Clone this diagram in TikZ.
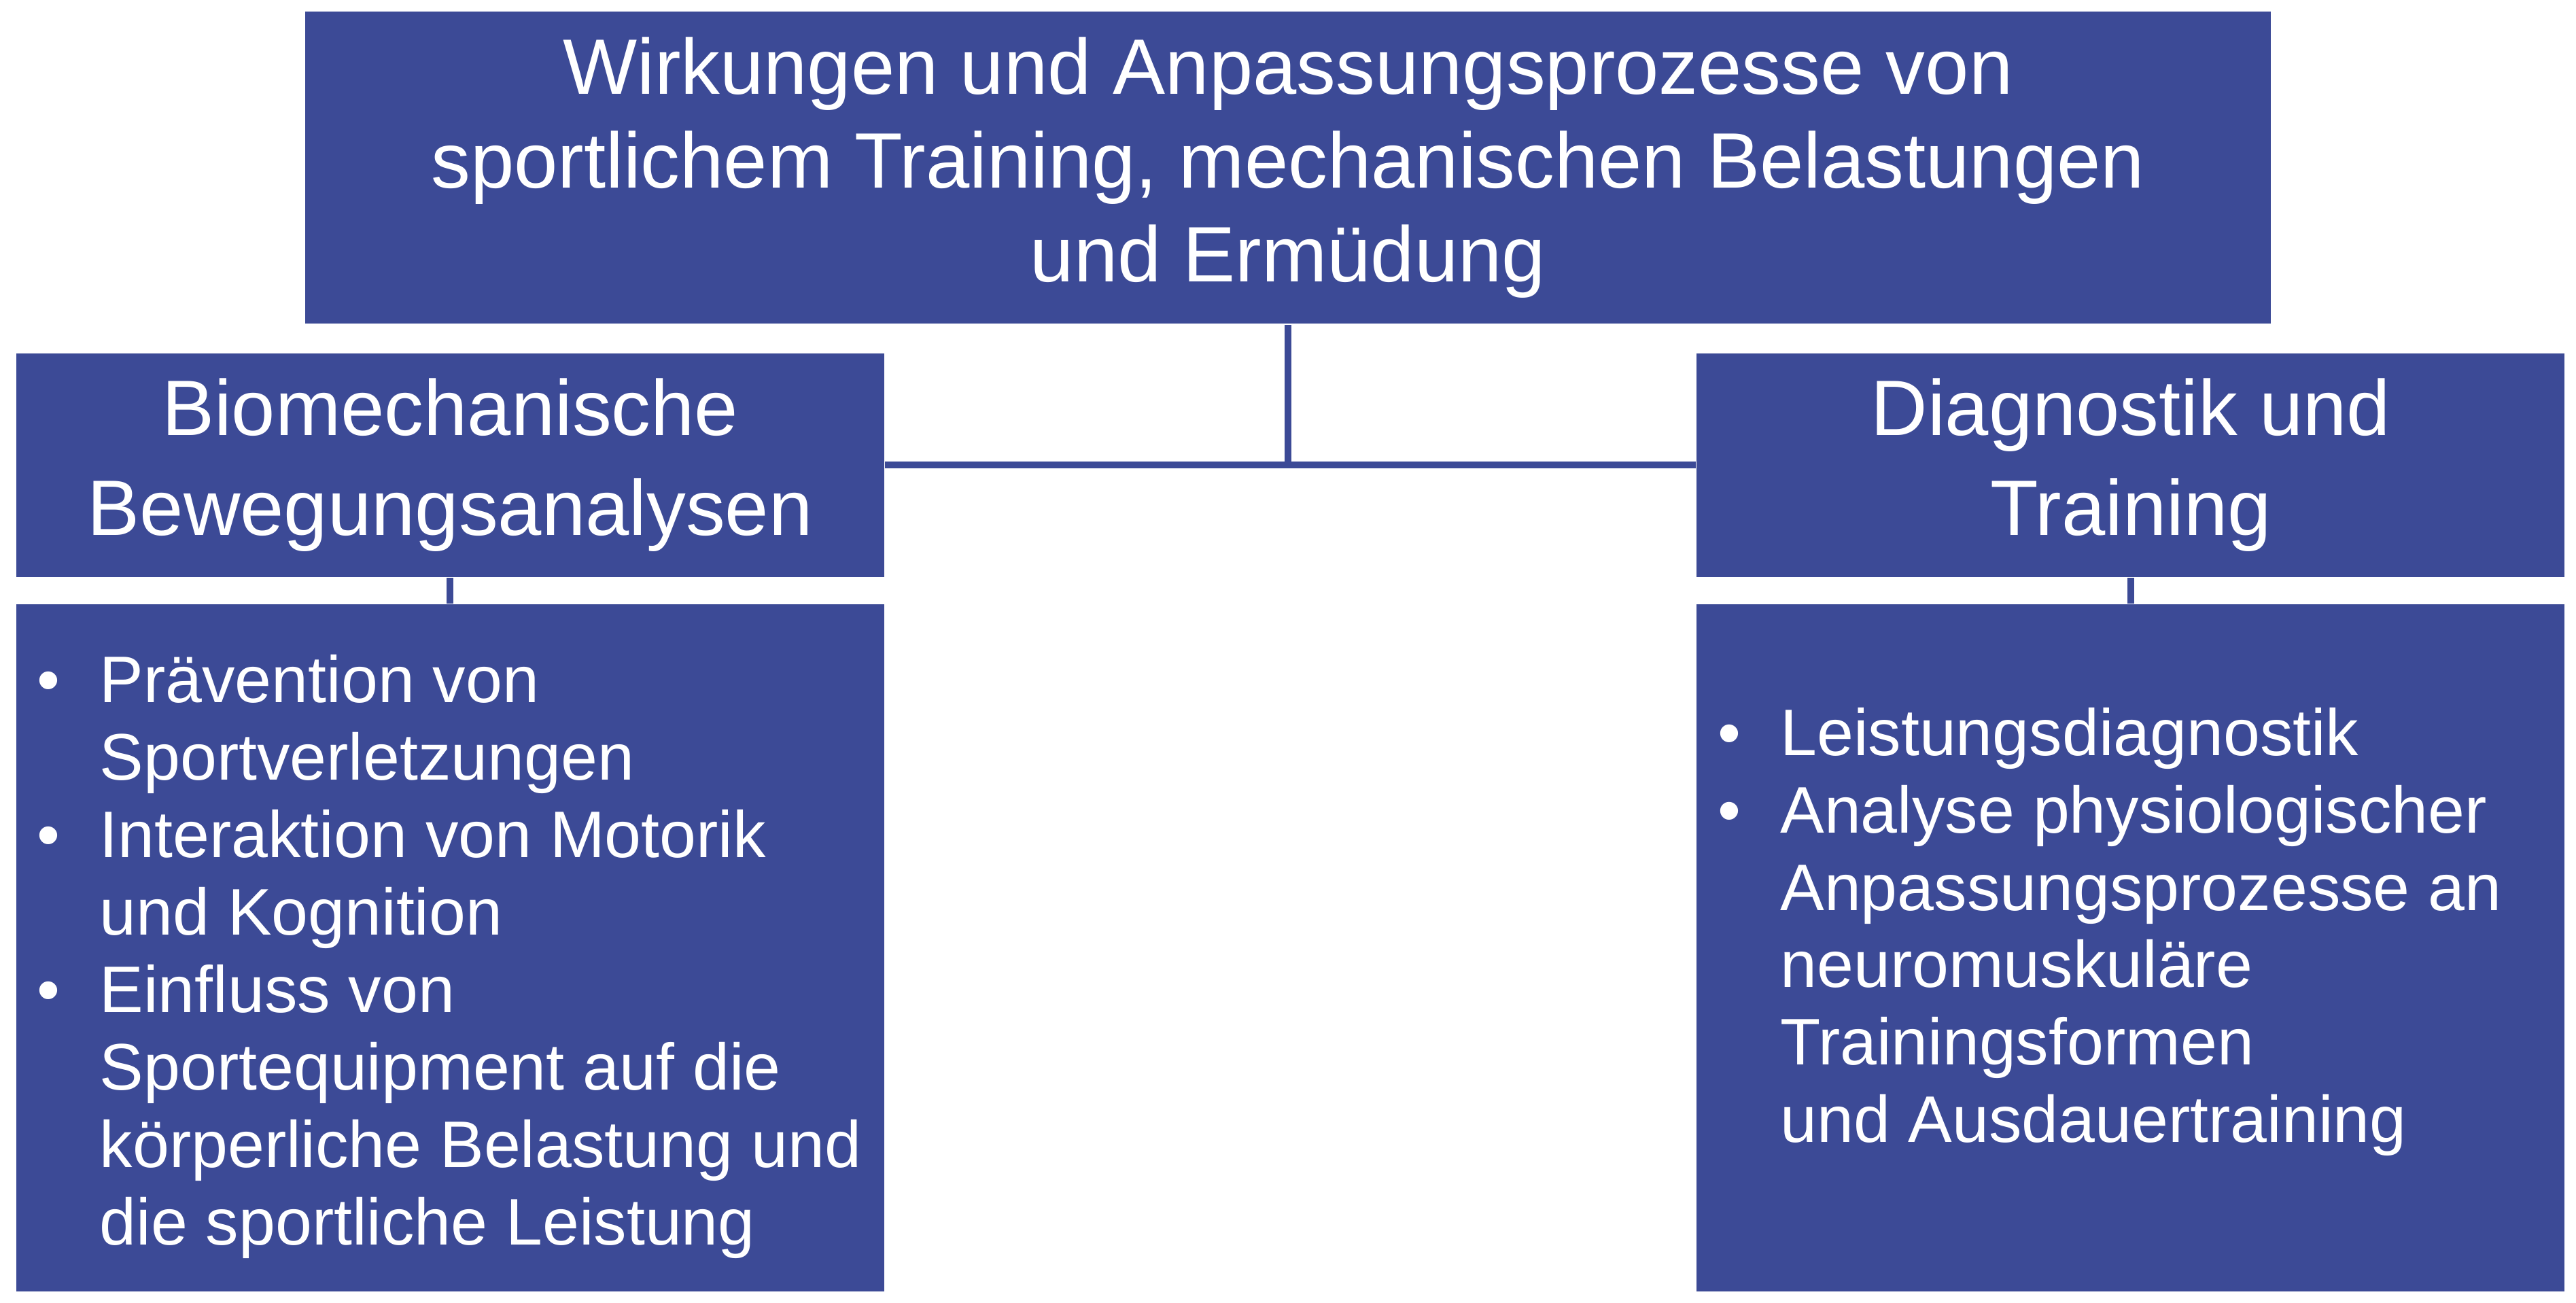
\documentclass[tikz,border=0pt]{standalone}
\usepackage{fontspec}
\setmainfont{Liberation Sans}
\definecolor{boxblue}{HTML}{3C4A96}
\tikzset{
    blockbox/.style={fill=boxblue, text=white, inner sep=0pt, align=center},
    itemtext/.style={text=white, anchor=north west, align=left, inner sep=0pt,
        font=\fontsize{11.4}{13.4}\selectfont},
    link/.style={draw=boxblue, line width=1.2pt}
}
\newcommand{\bul}{\makebox[0.38cm][l]{\textbullet}}
\newcommand{\ind}{\hspace*{0.38cm}}
\begin{document}
\begin{tikzpicture}[x=0.01cm, y=-0.01cm]
    \useasboundingbox (0,0) rectangle (1568,793);

    % Head box
    \node[blockbox, minimum width=11.96cm, minimum height=1.90cm,
        font=\fontsize{13.6}{16.2}\selectfont] (head) at (784,102)
        {Wirkungen und Anpassungsprozesse von\\sportlichem Training, mechanischen Belastungen\\und Ermüdung};

    % Titles
    \node[blockbox, minimum width=5.28cm, minimum height=1.36cm,
        font=\fontsize{13.6}{17.2}\selectfont] (biotitle) at (274,283)
        {Biomechanische\\Bewegungsanalysen};
    \node[blockbox, minimum width=5.28cm, minimum height=1.36cm,
        font=\fontsize{13.6}{17.2}\selectfont] (diagtitle) at (1297,283)
        {Diagnostik und\\Training};

    % Bodies
    \node[blockbox, minimum width=5.28cm, minimum height=4.18cm] (biobody) at (274,577) {};
    \node[blockbox, minimum width=5.28cm, minimum height=4.18cm] (diagbody) at (1297,577) {};

    \node[itemtext] (bioitems) at (22,398)
        {\bul Prävention von\\\ind Sportverletzungen\\
         \bul Interaktion von Motorik\\\ind und Kognition\\
         \bul Einfluss von\\\ind Sportequipment auf die\\\ind körperliche Belastung und\\\ind die sportliche Leistung};
    \node[itemtext] (diagitems) at (1045,430)
        {\bul Leistungsdiagnostik\\
         \bul Analyse physiologischer\\\ind Anpassungsprozesse an\\\ind neuromuskuläre\\\ind Trainingsformen\\\ind und Ausdauertraining};

    % Connectors
    \coordinate (join) at (head.south |- biotitle.east);
    \draw[link] (head.south) -- (join);
    \draw[link] (biotitle.east) -- (diagtitle.west);
    \draw[link] (biotitle.south) -- (biobody.north);
    \draw[link] (diagtitle.south) -- (diagbody.north);
\end{tikzpicture}
\end{document}
